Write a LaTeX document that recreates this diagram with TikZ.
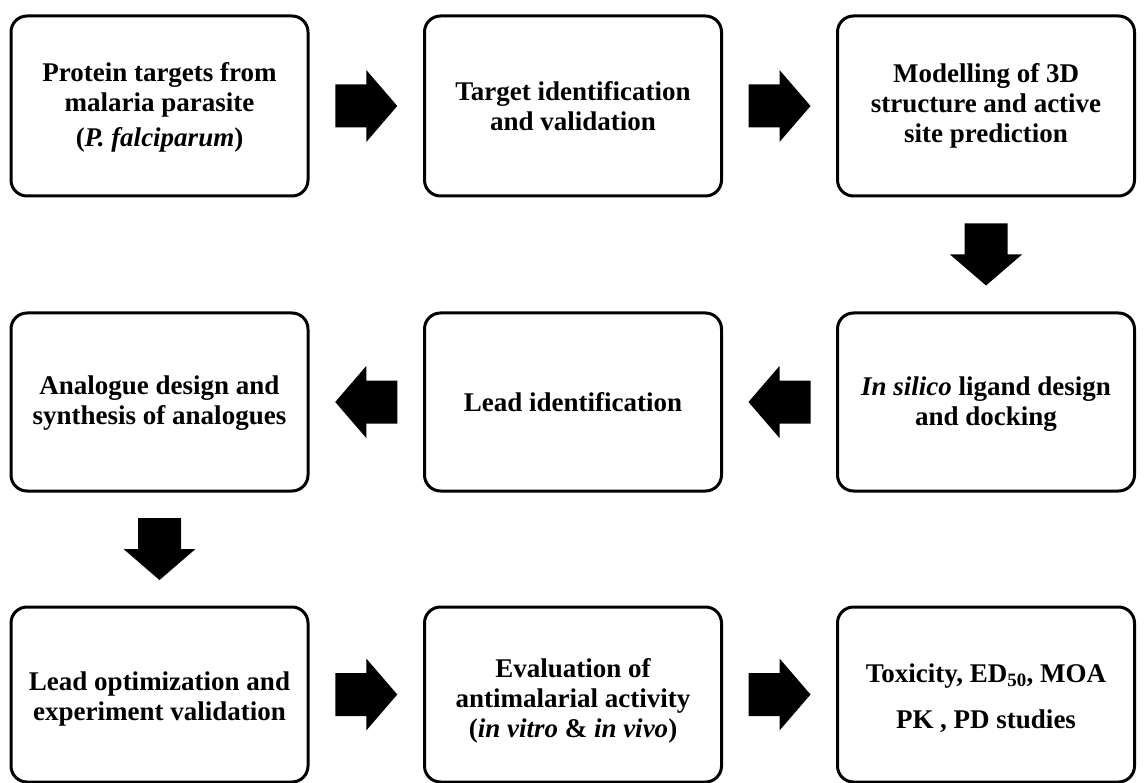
\documentclass[tikz,border=0pt]{standalone}
\usepackage{fontspec}
\setmainfont{Liberation Serif}
\usetikzlibrary{calc}
\tikzset{
  box/.style={draw=black, line width=3pt, rounded corners=16pt, fill=white,
    minimum width=297pt, minimum height=180pt, inner sep=0pt},
  lbl/.style={inner sep=0pt, align=center,
    font=\fontsize{27}{30}\selectfont\bfseries},
  blockarrow/.pic={\fill[black] (-31,-21.5) -- (0,-21.5) -- (0,-36) -- (31,0) -- (0,36) -- (0,21.5) -- (-31,21.5) -- cycle;}
}
\begin{document}
\begin{tikzpicture}[x=1pt,y=-1pt]
\useasboundingbox (0,0) rectangle (1145,783);
% row 1
\node[box] (b1) at (159.5,106) {};
\node[box] (b2) at (573,106) {};
\node[box] (b3) at (986,106) {};
% row 2
\node[box, minimum height=178pt] (b4) at (159.5,402) {};
\node[box, minimum height=178pt] (b5) at (573,402) {};
\node[box, minimum height=178pt] (b6) at (986,402) {};
% row 3
\node[box, minimum height=175pt] (b7) at (159.5,694.5) {};
\node[box, minimum height=175pt] (b8) at (573,694.5) {};
\node[box, minimum height=175pt] (b9) at (986,694.5) {};
% texts
\node[lbl] (t1) at ($(b1.center)+(0,1.5)$) {Protein targets from\\malaria parasite\\[5pt](\textit{P. falciparum})};
\node[lbl] (t2) at (b2.center) {Target identification\\and validation};
\node[lbl] (t3) at (b3.center) {Modelling of 3D\\structure and active\\site prediction};
\node[lbl] (t4) at ($(b4.center)+(0,1.5)$) {Analogue design and\\synthesis of analogues};
\node[lbl] (t5) at (b5.center) {Lead identification};
\node[lbl] (t6) at ($(b6.center)+(0,2)$) {\textit{In silico} ligand design\\and docking};
\node[lbl] (t7) at ($(b7.center)+(0,5)$) {Lead optimization and\\experiment validation};
\node[lbl] (t8) at ($(b8.center)+(0,6)$) {Evaluation of\\antimalarial activity\\(\textit{in vitro} \& \textit{in vivo})};
\node[lbl] (t9) at ($(b9.center)+(0,3.5)$) {Toxicity, ED\textsubscript{50}, MOA\\[16pt]PK , PD studies};
% arrows
\pic at ($(b1.east)!0.5!(b2.west)$) {blockarrow};
\pic at ($(b2.east)!0.5!(b3.west)$) {blockarrow};
\pic[rotate=-90] at ($(b3.south)!0.5!(b6.north)$) {blockarrow};
\pic[rotate=180] at ($(b6.west)!0.5!(b5.east)$) {blockarrow};
\pic[rotate=180] at ($(b5.west)!0.5!(b4.east)$) {blockarrow};
\pic[rotate=-90] at ($(b4.south)!0.5!(b7.north)$) {blockarrow};
\pic at ($(b7.east)!0.5!(b8.west)$) {blockarrow};
\pic at ($(b8.east)!0.5!(b9.west)$) {blockarrow};
\end{tikzpicture}
\end{document}
